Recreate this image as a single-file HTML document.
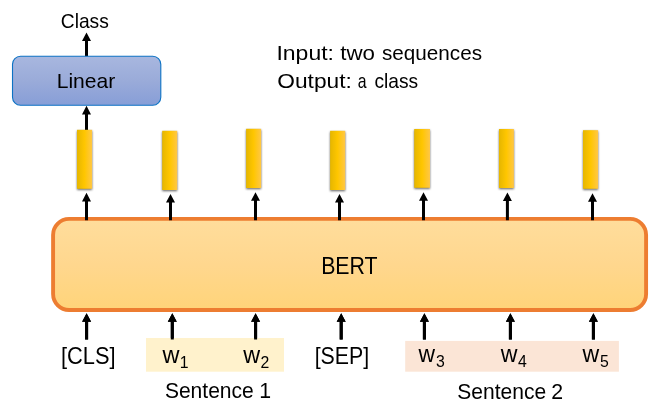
<!DOCTYPE html>
<html lang="en"><head><meta charset="utf-8"><title>BERT sentence pair classification</title>
<style>
html,body{margin:0;padding:0;background:#fff;}
body{width:655px;height:413px;overflow:hidden;}
svg{display:block;}
svg .t{filter:grayscale(1);}
svg text{font-family:"Liberation Sans",sans-serif;fill:#000;}
</style></head><body>
<svg width="655" height="413" viewBox="0 0 655 413">
<defs>
<linearGradient id="gy" x1="0" y1="0" x2="1" y2="0"><stop offset="0" stop-color="#E5B600"/><stop offset="0.5" stop-color="#FFC600"/><stop offset="1" stop-color="#FFC746"/></linearGradient>
<linearGradient id="gb" x1="0" y1="0" x2="0" y2="1"><stop offset="0" stop-color="#A8B7DF"/><stop offset="0.5" stop-color="#9AABD9"/><stop offset="1" stop-color="#879ED7"/></linearGradient>
<linearGradient id="go" x1="0" y1="0" x2="0" y2="1"><stop offset="0" stop-color="#FFDD9C"/><stop offset="0.5" stop-color="#FFD78E"/><stop offset="1" stop-color="#FFD479"/></linearGradient>
<filter id="bl" x="-50%" y="-20%" width="200%" height="140%"><feGaussianBlur stdDeviation="1.3"/></filter>
</defs>
<rect width="655" height="413" fill="#fff"/>
<path d="M85.00 56.50V41.10H82.00L86.50 32.50L91.00 41.10H88.00V56.50Z" fill="#000"/>
<path d="M85.00 130.50V114.40H82.00L86.50 105.80L91.00 114.40H88.00V130.50Z" fill="#000"/>
<rect x="77.0" y="130.9" width="15.1" height="59.0" fill="#000" opacity="0.6" filter="url(#bl)"/>
<rect x="77.0" y="129.8" width="15.1" height="59.0" fill="url(#gy)"/>
<rect x="162.2" y="131.9" width="15.0" height="59.2" fill="#000" opacity="0.6" filter="url(#bl)"/>
<rect x="162.2" y="130.8" width="15.0" height="59.2" fill="url(#gy)"/>
<rect x="246.1" y="129.9" width="15.0" height="59.2" fill="#000" opacity="0.6" filter="url(#bl)"/>
<rect x="246.1" y="128.8" width="15.0" height="59.2" fill="url(#gy)"/>
<rect x="330.1" y="131.9" width="15.1" height="59.2" fill="#000" opacity="0.6" filter="url(#bl)"/>
<rect x="330.1" y="130.8" width="15.1" height="59.2" fill="url(#gy)"/>
<rect x="414.2" y="130.1" width="15.8" height="58.8" fill="#000" opacity="0.6" filter="url(#bl)"/>
<rect x="414.2" y="129.0" width="15.8" height="58.8" fill="url(#gy)"/>
<rect x="499.0" y="130.1" width="14.9" height="59.0" fill="#000" opacity="0.6" filter="url(#bl)"/>
<rect x="499.0" y="129.0" width="14.9" height="59.0" fill="url(#gy)"/>
<rect x="583.0" y="131.3" width="15.1" height="58.6" fill="#000" opacity="0.6" filter="url(#bl)"/>
<rect x="583.0" y="130.2" width="15.1" height="58.6" fill="url(#gy)"/>
<path d="M85.10 339.50V321.80H82.10L86.60 313.20L91.10 321.80H88.10V339.50Z" fill="#000"/>
<path d="M170.80 339.50V321.80H167.80L172.30 313.20L176.80 321.80H173.80V339.50Z" fill="#000"/>
<path d="M254.10 339.50V321.80H251.10L255.60 313.20L260.10 321.80H257.10V339.50Z" fill="#000"/>
<path d="M339.70 339.50V321.80H336.70L341.20 313.20L345.70 321.80H342.70V339.50Z" fill="#000"/>
<path d="M422.90 339.50V321.80H419.90L424.40 313.20L428.90 321.80H425.90V339.50Z" fill="#000"/>
<path d="M508.90 339.50V321.80H505.90L510.40 313.20L514.90 321.80H511.90V339.50Z" fill="#000"/>
<path d="M591.90 339.50V321.80H588.90L593.40 313.20L597.90 321.80H594.90V339.50Z" fill="#000"/>
<rect x="146" y="338" width="138" height="33.7" fill="#FFF2CC"/>
<rect x="405.2" y="340.9" width="213.7" height="30.8" fill="#FBE5D6"/>
<path d="M85.10 339.50V321.80H82.10L86.60 313.20L91.10 321.80H88.10V339.50Z" fill="#000"/>
<path d="M170.80 339.50V321.80H167.80L172.30 313.20L176.80 321.80H173.80V339.50Z" fill="#000"/>
<path d="M254.10 339.50V321.80H251.10L255.60 313.20L260.10 321.80H257.10V339.50Z" fill="#000"/>
<path d="M339.70 339.50V321.80H336.70L341.20 313.20L345.70 321.80H342.70V339.50Z" fill="#000"/>
<path d="M422.90 339.50V321.80H419.90L424.40 313.20L428.90 321.80H425.90V339.50Z" fill="#000"/>
<path d="M508.90 339.50V321.80H505.90L510.40 313.20L514.90 321.80H511.90V339.50Z" fill="#000"/>
<path d="M591.90 339.50V321.80H588.90L593.40 313.20L597.90 321.80H594.90V339.50Z" fill="#000"/>
<rect x="12.5" y="56.3" width="148.3" height="48.9" rx="8" ry="8" fill="url(#gb)" stroke="#0C72C4" stroke-width="1.1"/>
<rect x="53.1" y="218.9" width="593.0" height="91.1" rx="16" ry="16" fill="url(#go)" stroke="#ED7D31" stroke-width="3.9"/>
<path d="M85.00 220.30V201.40H82.00L86.50 192.80L91.00 201.40H88.00V220.30Z" fill="#000"/>
<path d="M169.00 220.30V202.50H166.00L170.50 193.90L175.00 202.50H172.00V220.30Z" fill="#000"/>
<path d="M254.00 220.30V200.80H251.00L255.50 192.20L260.00 200.80H257.00V220.30Z" fill="#000"/>
<path d="M338.00 220.30V202.60H335.00L339.50 194.00L344.00 202.60H341.00V220.30Z" fill="#000"/>
<path d="M422.00 220.30V200.80H419.00L423.50 192.20L428.00 200.80H425.00V220.30Z" fill="#000"/>
<path d="M505.90 220.30V201.00H502.90L507.40 192.40L511.90 201.00H508.90V220.30Z" fill="#000"/>
<path d="M591.00 220.30V201.80H588.00L592.50 193.20L597.00 201.80H594.00V220.30Z" fill="#000"/>
<g class="t">
<text><tspan x="60.78" y="27.5" font-size="21" textLength="48.07" lengthAdjust="spacingAndGlyphs">Class</tspan></text>
<text><tspan x="56.69" y="87.7" font-size="20.8" textLength="58.54" lengthAdjust="spacingAndGlyphs">Linear</tspan></text>
<text><tspan x="321.17" y="273.6" font-size="24.6" textLength="56.45" lengthAdjust="spacingAndGlyphs">BERT</tspan></text>
<text><tspan x="276.46" y="59.8" font-size="20.2" textLength="57.47" lengthAdjust="spacingAndGlyphs">Input:</tspan> <tspan x="340.2" y="59.8" font-size="20.2" textLength="34.75" lengthAdjust="spacingAndGlyphs">two</tspan> <tspan x="382.0" y="59.8" font-size="20.2" textLength="100.0" lengthAdjust="spacingAndGlyphs">sequences</tspan></text>
<text><tspan x="277.3" y="88.3" font-size="20.2" textLength="74.51" lengthAdjust="spacingAndGlyphs">Output:</tspan> <tspan x="357.8" y="88.3" font-size="20.2" textLength="8.79" lengthAdjust="spacingAndGlyphs">a</tspan> <tspan x="374.4" y="88.3" font-size="20.2" textLength="43.69" lengthAdjust="spacingAndGlyphs">class</tspan></text>
<text><tspan x="60.98" y="364.3" font-size="23.6" textLength="54.56" lengthAdjust="spacingAndGlyphs">[CLS]</tspan></text>
<text><tspan x="162.42" y="362.6" font-size="23" textLength="16.98" lengthAdjust="spacingAndGlyphs">w</tspan><tspan x="184.2" y="367.8" font-size="15.8" text-anchor="middle">1</tspan></text>
<text><tspan x="243.32" y="362.6" font-size="23" textLength="16.89" lengthAdjust="spacingAndGlyphs">w</tspan><tspan x="264.8" y="367.8" font-size="15.8" text-anchor="middle">2</tspan></text>
<text><tspan x="314.7" y="364.3" font-size="23.6" textLength="54.51" lengthAdjust="spacingAndGlyphs">[SEP]</tspan></text>
<text><tspan x="418.59" y="361.8" font-size="23" textLength="16.52" lengthAdjust="spacingAndGlyphs">w</tspan><tspan x="440.3" y="366.9" font-size="15.8" text-anchor="middle">3</tspan></text>
<text><tspan x="500.71" y="361.8" font-size="23" textLength="16.7" lengthAdjust="spacingAndGlyphs">w</tspan><tspan x="522.3" y="366.9" font-size="15.8" text-anchor="middle">4</tspan></text>
<text><tspan x="582.41" y="361.8" font-size="23" textLength="16.7" lengthAdjust="spacingAndGlyphs">w</tspan><tspan x="604.4" y="366.9" font-size="15.8" text-anchor="middle">5</tspan></text>
<text><tspan x="164.9" y="397.7" font-size="21.3" textLength="88.83" lengthAdjust="spacingAndGlyphs">Sentence</tspan> <tspan x="265.3" y="397.7" font-size="21.3" text-anchor="middle">1</tspan></text>
<text><tspan x="457.3" y="398.7" font-size="21.3" textLength="88.83" lengthAdjust="spacingAndGlyphs">Sentence</tspan> <tspan x="557.1" y="398.7" font-size="21.3" text-anchor="middle">2</tspan></text>
</g>
</svg>
</body></html>
